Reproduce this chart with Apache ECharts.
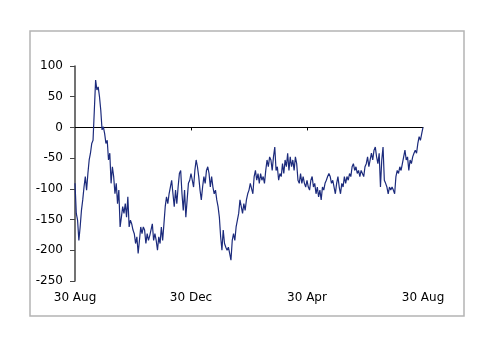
<!DOCTYPE html>
<html>
<head>
<meta charset="utf-8">
<script src="https://cdn.jsdelivr.net/npm/echarts@6/dist/echarts.min.js"></script>
<style>
html,body{margin:0;padding:0;background:#fff;}
#chart{width:500px;height:354px;}
</style>
</head>
<body>
<div id="chart"></div>
<script>
// Tick labels on the horizontal axis (shown at four equally spaced positions)
var tickLabels = ["30 Aug", "30 Dec", "30 Apr", "30 Aug"];

// Series values, in chronological order (trading days)
var valuesSepDec = [
  -91,-140,-151,-184,-162,-135,-118,-97,-80,-102,-75,-53,-42,-26,-21,28,77,61,66,50,
  28,-4,1,-10,-26,-21,-53,-42,-91,-64,-80,-108,-91,-124,-102,-162,-146,-129,-140,-124,
  -146,-113,-162,-151,-157,-167,-173,
  -189,-178,-205,-184,-162,-173,-162,-167,-189,-173,-184,-176,-178,-157,-184,-173,-184,-200,-178,-189,
  -162,-184,-157,-129,-113,-124,-108,-97,-86,-108,-129,-102,-124,-97,-75,-70,-108,-135,-102,-146,
  -118,-91,-86
];
var valuesJanApr = [
  -75,-86,-97,-70,-53,-64,-80,-102,-118,-97,-80,-91,-70,-64,-75,-97,-80,-97,-108,-102,
  -118,-129,-146,-178,-200,-167,-189,-195,-200,-195,-205,-216,-184,-173,-184,-162,-151,-140,-118,-129,
  -140,-124,-135,-118,-108,-102,-91,
  -91,-108,-80,-70,-86,-75,-91,-75,-86,-80,-91,-70,-53,-64,-48,-53,-70,-48,-32,-70,
  -64,-86,-75,-80,-59,-75,-53,-64,-42,-70,-48,-64,-53,-70,-48,-59,-86,-91,-75,-91,
  -80,-91,-97,-86
];
var valuesMayAug = [
  -97,-102,-86,-80,-97,-91,-108,-97,-113,-102,-118,-97,-102,-91,-86,-80,-75,-80,-91,-86,
  -97,-108,-91,-80,-97,-108,-91,-97,-80,-91,-80,-86,-75,-80,-64,-59,-70,-64,-75,-70,
  -80,-70,-75,-80,
  -64,-59,-48,-64,-53,-42,-53,-37,-32,-48,-59,-42,-97,-53,-32,-86,-91,-97,-108,-97,
  -102,-97,-102,-108,-80,-70,-75,-64,-70,-59,-48,-37,-53,-48,-70,-53,-59,-48,-42,-37,
  -42,-26,-15,-21,-10,0
];

var values = valuesSepDec.concat(valuesJanApr, valuesMayAug);
var categories = values.map(function (v, i) { return String(i); });
var step = (values.length - 1) / (tickLabels.length - 1);

var chart = echarts.init(document.getElementById('chart'), null, {renderer: 'canvas'});
var font = 'DejaVu Sans, Verdana, sans-serif';
chart.setOption({
  animation: false,
  backgroundColor: '#ffffff',
  graphic: [{
    type: 'rect',
    shape: {x: 30, y: 31, width: 434, height: 285},
    style: {fill: 'none', stroke: '#b4b4b4', lineWidth: 1.5},
    silent: true
  }],
  grid: {left: 75, right: 77, top: 66, bottom: 73, containLabel: false},
  xAxis: [{
    type: 'category',
    data: categories,
    boundaryGap: false,
    position: 'bottom',
    axisLine: {show: false, onZero: false},
    axisTick: {show: false},
    splitLine: {show: false},
    axisLabel: {
      interval: function (index) { return index % step === 0; },
      formatter: function (value, index) { return tickLabels[Math.round(Number(value) / step)]; },
      color: '#000',
      fontFamily: font,
      fontSize: 12,
      margin: 11
    }
  }, {
    type: 'category',
    data: categories,
    boundaryGap: false,
    position: 'bottom',
    axisLine: {show: true, onZero: true, lineStyle: {color: '#000', width: 1}},
    axisTick: {
      show: true, length: 3,
      interval: function (index) { return index % step === 0 && index > 0 && index < values.length - 1; },
      lineStyle: {color: '#000'}
    },
    axisLabel: {show: false},
    splitLine: {show: false}
  }],
  yAxis: {
    type: 'value',
    min: -250,
    max: 100,
    interval: 50,
    axisLine: {show: true, onZero: false, lineStyle: {color: '#444', width: 1.5}},
    axisTick: {show: true, length: 5, lineStyle: {color: '#444'}},
    splitLine: {show: false},
    axisLabel: {color: '#000', fontFamily: font, fontSize: 12, margin: 12}
  },
  series: [{
    type: 'line',
    xAxisIndex: 0,
    data: values,
    showSymbol: false,
    symbol: 'none',
    lineStyle: {color: '#1c2b7c', width: 1.2},
    itemStyle: {color: '#1c2b7c'}
  }]
});
</script>
</body>
</html>
